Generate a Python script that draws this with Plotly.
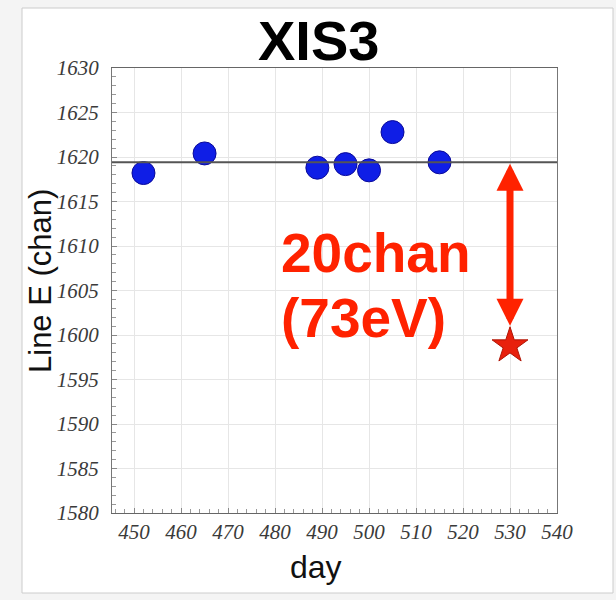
import plotly.graph_objects as go

# Measured line energy per observation day (XIS3)
days = [452, 465, 489, 495, 500, 505, 515]
line_e = [1618.2, 1620.4, 1618.8, 1619.2, 1618.5, 1622.8, 1619.4]

# Reference level and the off-level point
level = 1619.4
star_day = [530]
star_e = [1598.8]

x_ticks = [450, 460, 470, 480, 490, 500, 510, 520, 530, 540]
y_ticks = [1580, 1585, 1590, 1595, 1600, 1605, 1610, 1615, 1620, 1625, 1630]

RED = "#ff2200"
BLUE = "#0f1ee6"

W, H = 616, 600
ML, MR, MT, MB = 112, 59, 68, 87
PW, PH = W - ML - MR, H - MT - MB


def px_x(p):
    return (p - ML) / PW


def px_y(p):
    return (H - MB - p) / PH


fig = go.Figure()

fig.add_trace(go.Scatter(
    x=days, y=line_e, mode="markers",
    marker=dict(size=23, color=BLUE, line=dict(color="#0a0a9a", width=1)),
    showlegend=False,
))
fig.add_trace(go.Scatter(
    x=star_day, y=star_e, mode="markers",
    marker=dict(symbol="star", size=27, color="#e8200c", line=dict(color="#b01505", width=1)),
    showlegend=False,
))

# horizontal reference level across the whole axis
fig.add_shape(type="line", xref="x domain", yref="y", x0=0, x1=1, y0=level, y1=level,
              line=dict(color="#555555", width=2))

# white card behind the chart
fig.add_shape(type="rect", xref="paper", yref="paper", layer="below",
              x0=px_x(22), x1=px_x(613), y0=px_y(593), y1=px_y(8),
              fillcolor="white", line=dict(color="#cccccc", width=1))

# double-headed arrow from the level down to the star
fig.add_annotation(
    x=star_day[0], y=star_e[0], ax=star_day[0], ay=level,
    xref="x", yref="y", axref="x", ayref="y",
    text="", showarrow=True, arrowside="end+start",
    arrowhead=2, startarrowhead=2, arrowsize=0.77, startarrowsize=0.77,
    arrowwidth=7, arrowcolor=RED, standoff=20, startstandoff=0,
    font=dict(size=1),
)

fig.add_annotation(x=px_x(279), y=px_y(253), xref="paper", yref="paper",
                   xanchor="left", yanchor="middle", showarrow=False,
                   text="<b>20chan</b>",
                   font=dict(family="Liberation Sans, Arial", size=55, color=RED))
fig.add_annotation(x=px_x(279), y=px_y(318), xref="paper", yref="paper",
                   xanchor="left", yanchor="middle", showarrow=False,
                   text="<b>(73eV)</b>",
                   font=dict(family="Liberation Sans, Arial", size=55, color=RED))

# title and axis titles
fig.add_annotation(x=px_x(318), y=px_y(40), xref="paper", yref="paper",
                   xanchor="center", yanchor="middle", showarrow=False,
                   text="<b>XIS3</b>",
                   font=dict(family="Liberation Sans, Arial", size=56, color="black"))
fig.add_annotation(x=px_x(316), y=px_y(567), xref="paper", yref="paper",
                   xanchor="center", yanchor="middle", showarrow=False,
                   text="day",
                   font=dict(family="Liberation Sans, Arial", size=32, color="#111111"))
fig.add_annotation(x=px_x(40), y=px_y(281), xref="paper", yref="paper",
                   xanchor="center", yanchor="middle", showarrow=False,
                   text="Line E (chan)", textangle=-90,
                   font=dict(family="Liberation Sans, Arial", size=31, color="#111111"))

tick_font = dict(family="Liberation Serif, Times New Roman", size=21, color="#3a3a3a", style="italic")

fig.update_xaxes(
    range=[445.3, 540], tickmode="array", tickvals=x_ticks, ticktext=[str(v) for v in x_ticks],
    ticks="inside", ticklen=5, tickcolor="#888888",
    minor=dict(dtick=2, tick0=450, ticks="inside", ticklen=4, tickcolor="#999999", showgrid=False),
    showgrid=True, gridcolor="#e6e6e6", gridwidth=1,
    showline=True, linecolor="#666666", linewidth=1.3, mirror=True,
    tickfont=tick_font, zeroline=False,
)
fig.update_yaxes(
    range=[1580, 1630], tickmode="array", tickvals=y_ticks, ticktext=[str(v) for v in y_ticks],
    ticks="inside", ticklen=5, tickcolor="#888888",
    minor=dict(dtick=1, tick0=1580, ticks="inside", ticklen=4, tickcolor="#999999", showgrid=False),
    showgrid=True, gridcolor="#e6e6e6", gridwidth=1,
    showline=True, linecolor="#777777", linewidth=1.2, mirror=True,
    tickfont=tick_font, zeroline=False, ticklabelstandoff=8,
)

fig.update_layout(
    width=W, height=H,
    margin=dict(l=ML, r=MR, t=MT, b=MB),
    paper_bgcolor="#f4f4f4", plot_bgcolor="rgba(0,0,0,0)",
    showlegend=False,
)

fig.write_html("out.html")
